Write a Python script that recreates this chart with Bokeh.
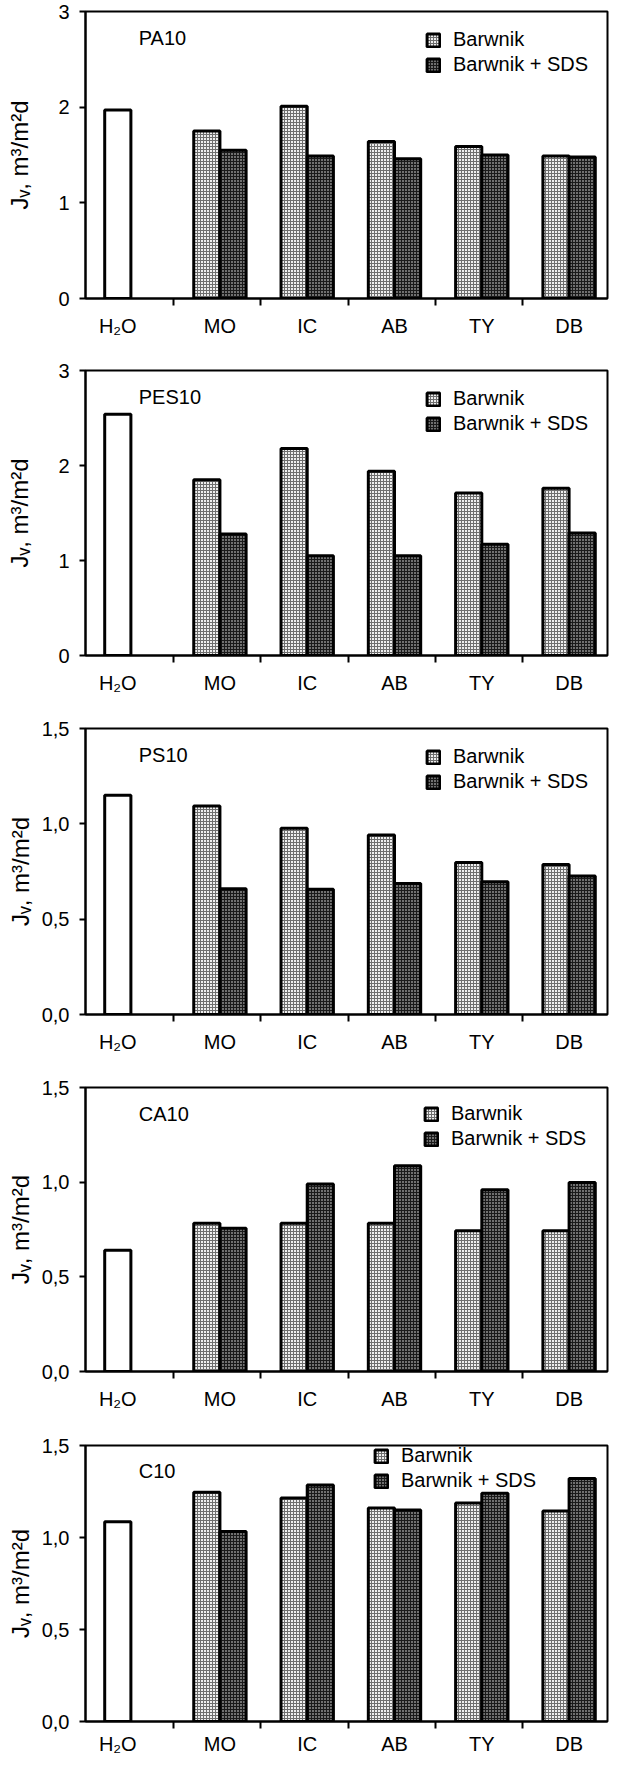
from bokeh.plotting import figure
from bokeh.layouts import column
from bokeh.models import Range1d, FixedTicker, Legend, LegendItem, Label
from bokeh.embed import file_html
from bokeh.resources import INLINE

# ---------------- data ----------------
categories = ["H₂O", "MO", "IC", "AB", "TY", "DB"]
dyes = ["MO", "IC", "AB", "TY", "DB"]
panels = ["PA10", "PES10", "PS10", "CA10", "C10"]

water = [1.97, 2.54, 1.15, 0.64, 1.085]

pa10_dye = [1.75, 2.01, 1.64, 1.59, 1.49]
pa10_sds = [1.55, 1.49, 1.46, 1.50, 1.48]
pes10_dye = [1.85, 2.18, 1.94, 1.71, 1.76]
pes10_sds = [1.28, 1.05, 1.05, 1.17, 1.29]
ps10_dye = [1.094, 0.977, 0.942, 0.797, 0.787]
ps10_sds = [0.66, 0.657, 0.687, 0.696, 0.727]
ca10_dye = [0.783, 0.783, 0.783, 0.743, 0.743]
ca10_sds = [0.757, 0.99, 1.087, 0.96, 0.998]
c10_dye = [1.246, 1.214, 1.161, 1.188, 1.144]
c10_sds = [1.032, 1.286, 1.149, 1.241, 1.321]

dye_series = [pa10_dye, pes10_dye, ps10_dye, ca10_dye, c10_dye]
sds_series = [pa10_sds, pes10_sds, ps10_sds, ca10_sds, c10_sds]

y_max = [3, 3, 1.5, 1.5, 1.5]
y_ticks = [[0, 1, 2, 3], [0, 1, 2, 3], [0, 0.5, 1, 1.5], [0, 0.5, 1, 1.5], [0, 0.5, 1, 1.5]]
y_tick_labels = [["0", "1", "2", "3"], ["0", "1", "2", "3"],
                 ["0,0", "0,5", "1,0", "1,5"], ["0,0", "0,5", "1,0", "1,5"],
                 ["0,0", "0,5", "1,0", "1,5"]]
legend_labels = ["Barwnik", "Barwnik + SDS"]
y_label = "Jᵥ, m³/m²d"

# ---------------- layout / style ----------------
FONT = "Liberation Sans"
FS = "20px"
fig_heights = [359, 358, 359, 358, 323]
border_bottom = [61, 62, 62, 63, 30]
x_label_standoff = [9, 9, 9, 9, 4]
border_top = 11
fig_width = 609
bar_w = 0.3
h2o_off = -0.17
legend_top_gap = [19, 19, 19, 17, 7]
legend_x = [340, 340, 340, 338, 288]
LEGEND_H = 46
label_standoff = [22, 22, 5, 5, 5]

figs = []
for k in range(5):
    frame_h = fig_heights[k] - border_top - border_bottom[k]
    p = figure(width=fig_width, height=fig_heights[k], output_backend="svg",
               toolbar_location=None, x_range=Range1d(-0.54, 5.44),
               y_range=Range1d(0, y_max[k]),
               min_border_left=85, min_border_right=2, min_border_top=border_top,
               min_border_bottom=border_bottom[k])
    p.background_fill_color = "white"
    p.border_fill_color = "white"
    p.outline_line_color = "black"
    p.outline_line_width = 2
    p.xgrid.visible = False
    p.ygrid.visible = False

    # water bar
    p.vbar(x=[0 + h2o_off], top=[water[k]], width=bar_w, bottom=0,
           fill_color="white", line_color="black", line_width=3)
    xs = [i + 1 for i in range(len(dyes))]
    r1 = p.vbar(x=[x - 0.15 for x in xs], top=dye_series[k], width=bar_w, bottom=0,
                fill_color="#eeeeee", line_color="black", line_width=3,
                hatch_pattern="+", hatch_color="#6e6e6e", hatch_scale=3, hatch_weight=1)
    r2 = p.vbar(x=[x + 0.15 for x in xs], top=sds_series[k], width=bar_w, bottom=0,
                fill_color="#707070", line_color="black", line_width=3,
                hatch_pattern="+", hatch_color="#1a1a1a", hatch_scale=3, hatch_weight=1)

    # x axis
    label_pos = [0 + h2o_off] + [float(x) for x in xs]
    bounds = [i + 0.47 for i in range(5)]
    p.xaxis.ticker = FixedTicker(ticks=label_pos, minor_ticks=bounds)
    p.xaxis.major_label_overrides = {pos: name for pos, name in zip(label_pos, categories)}
    p.xaxis.major_tick_out = 0
    p.xaxis.major_tick_in = 0
    p.xaxis.minor_tick_out = 7
    p.xaxis.minor_tick_in = 0
    p.xaxis.minor_tick_line_width = 2
    p.xaxis.minor_tick_line_color = "black"
    p.xaxis.axis_line_width = 2
    p.xaxis.major_label_standoff = x_label_standoff[k]
    p.xaxis.major_label_text_font = FONT
    p.xaxis.major_label_text_font_size = FS
    p.xaxis.major_label_text_color = "black"

    # y axis
    p.yaxis.ticker = FixedTicker(ticks=y_ticks[k], minor_ticks=[])
    p.yaxis.major_label_overrides = {t: s for t, s in zip(y_ticks[k], y_tick_labels[k])}
    p.yaxis.major_tick_out = 6
    p.yaxis.major_tick_in = 0
    p.yaxis.major_tick_line_width = 2
    p.yaxis.minor_tick_out = 0
    p.yaxis.minor_tick_in = 0
    p.yaxis.axis_line_width = 2
    p.yaxis.major_label_standoff = 10
    p.yaxis.major_label_text_font = FONT
    p.yaxis.major_label_text_font_size = FS
    p.yaxis.major_label_text_color = "black"
    p.yaxis.axis_label = y_label
    p.yaxis.axis_label_text_font = FONT
    p.yaxis.axis_label_text_font_size = "24px"
    p.yaxis.axis_label_text_font_style = "normal"
    p.yaxis.axis_label_text_color = "black"
    p.yaxis.axis_label_standoff = label_standoff[k]

    # panel title
    p.add_layout(Label(x=0.07, y=y_max[k] * (1 - 26.0 / frame_h), text=panels[k],
                       text_font=FONT, text_font_size=FS, text_baseline="middle",
                       text_align="left", text_color="black"))

    legend = Legend(items=[LegendItem(label=legend_labels[0], renderers=[r1]),
                           LegendItem(label=legend_labels[1], renderers=[r2])],
                    location=(legend_x[k], frame_h - legend_top_gap[k] - LEGEND_H),
                    padding=0, spacing=2, margin=0,
                    glyph_width=16, glyph_height=16, label_height=20,
                    label_standoff=12, label_text_font=FONT, label_text_font_size=FS,
                    label_text_color="black", border_line_color=None,
                    background_fill_alpha=0)
    p.add_layout(legend)
    figs.append(p)

layout = column(*figs, spacing=0)
open("out.html", "w").write(file_html(layout, INLINE))
